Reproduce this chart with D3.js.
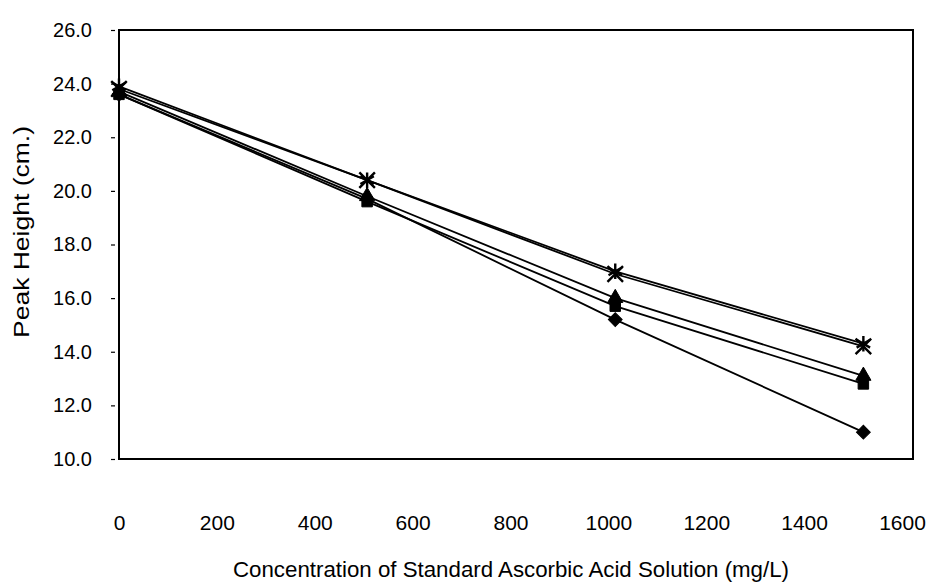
<!DOCTYPE html>
<html>
<head>
<meta charset="utf-8">
<script src="https://cdn.jsdelivr.net/npm/d3@7"></script>
<style>
  body { margin: 0; background: #fff; }
  text { font-family: "Liberation Sans", Arial, sans-serif; fill: #000; }
</style>
</head>
<body>
<svg id="chart" width="941" height="588"></svg>
<script>
// Peak height of standard ascorbic acid solutions at each concentration
const concentrations = [0, 500, 1000, 1500];
const diamondSeries  = [23.6, 19.7, 15.2, 11.0];
const squareSeries   = [23.6, 19.6, 15.7, 12.8];
const triangleSeries = [23.7, 19.8, 16.0, 13.1];
const crossSeries    = [23.8, 20.4, 16.9, 14.2];
const starSeries     = [23.9, 20.4, 17.0, 14.3];

const xTickValues = [0, 200, 400, 600, 800, 1000, 1200, 1400, 1600];
const yTickValues = [10, 12, 14, 16, 18, 20, 22, 24, 26];

const xTitle = "Concentration of Standard Ascorbic Acid Solution (mg/L)";
const yTitle = "Peak Height (cm.)";

const svg = d3.select("#chart");
const plot = { left: 119, right: 913, top: 30, bottom: 459 };

const x = d3.scaleLinear().domain([0, 1600]).range([plot.left, plot.right]);
const y = d3.scaleLinear().domain([10, 26]).range([plot.bottom, plot.top]);
// tick-label row sits well below the plot frame
const xLabelScale = d3.scaleLinear().domain([0, 1600]).range([119, 902]);

// plot frame
svg.append("rect")
  .attr("x", plot.left).attr("y", plot.top)
  .attr("width", plot.right - plot.left).attr("height", plot.bottom - plot.top)
  .attr("fill", "none").attr("stroke", "#000").attr("stroke-width", 2);

// y axis
const yAxis = svg.append("g")
  .attr("transform", `translate(${plot.left},0)`)
  .call(d3.axisLeft(y).tickValues(yTickValues).tickFormat(d3.format(".1f")).tickSize(6).tickPadding(20));
yAxis.select(".domain").remove();
yAxis.selectAll(".tick line").attr("stroke", "#000").attr("stroke-width", 1.2).attr("x1", -8).attr("x2", -4);
yAxis.selectAll(".tick text")
  .style("font-family", "'Liberation Sans', Arial, sans-serif")
  .style("font-size", "20px").attr("fill", "#000").attr("x", -27);

// x tick labels
const xAxis = svg.append("g")
  .attr("transform", "translate(0,515)")
  .call(d3.axisBottom(xLabelScale).tickValues(xTickValues).tickFormat(d3.format("d")).tickSize(0).tickPadding(0));
xAxis.select(".domain").remove();
xAxis.selectAll(".tick text")
  .style("font-family", "'Liberation Sans', Arial, sans-serif")
  .style("font-size", "21px").attr("fill", "#000");

// axis titles
svg.append("text")
  .attr("x", 511).attr("y", 577)
  .attr("text-anchor", "middle")
  .attr("textLength", 556).attr("lengthAdjust", "spacingAndGlyphs")
  .style("font-size", "22px")
  .text(xTitle);

svg.append("text")
  .attr("transform", "translate(29,232) rotate(-90)")
  .attr("text-anchor", "middle")
  .attr("textLength", 212).attr("lengthAdjust", "spacingAndGlyphs")
  .style("font-size", "22px")
  .text(yTitle);

// series
const series = [
  { values: diamondSeries,  symbol: d3.symbolSquare,   size: 95,  rotate: 45, fill: true },
  { values: squareSeries,   symbol: d3.symbolSquare,   size: 110, rotate: 0,  fill: true },
  { values: triangleSeries, symbol: d3.symbolTriangle, size: 100, rotate: 0,  fill: true },
  { values: crossSeries,    symbol: d3.symbolX,        size: 160, rotate: 0,  fill: false },
  { values: starSeries,     symbol: d3.symbolAsterisk, size: 170, rotate: 0,  fill: false }
];

const line = d3.line().x(d => x(d[0])).y(d => y(d[1]));

series.forEach(s => {
  const pts = concentrations.map((c, i) => [c, s.values[i]]);
  svg.append("path")
    .datum(pts)
    .attr("d", line)
    .attr("fill", "none")
    .attr("stroke", "#000")
    .attr("stroke-width", 1.8);
});

series.forEach(s => {
  const pts = concentrations.map((c, i) => [c, s.values[i]]);
  const gen = d3.symbol().type(s.symbol).size(s.size);
  svg.append("g").selectAll("path")
    .data(pts)
    .join("path")
    .attr("d", gen)
    .attr("transform", d => `translate(${x(d[0])},${y(d[1])}) rotate(${s.rotate})`)
    .attr("fill", s.fill ? "#000" : "none")
    .attr("stroke", "#000")
    .attr("stroke-width", s.fill ? 1 : 2.4);
});
</script>
</body>
</html>
